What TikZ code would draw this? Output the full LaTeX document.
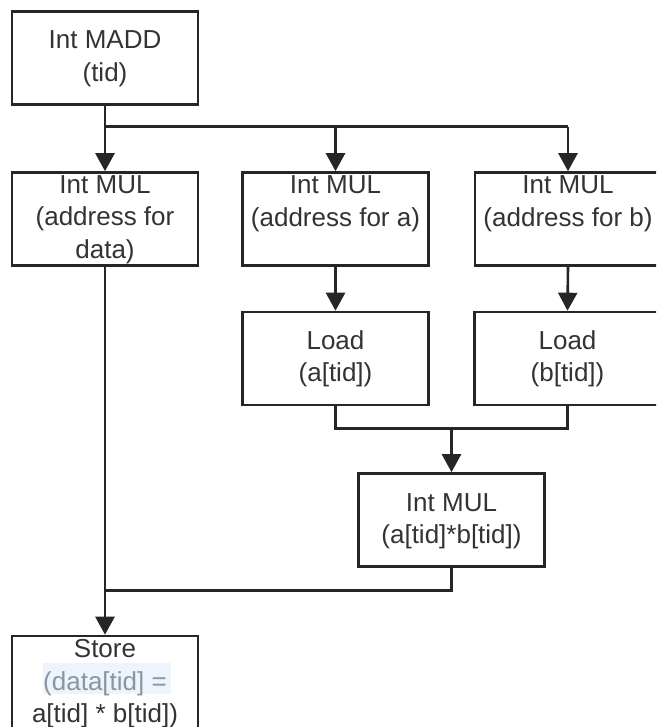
\documentclass[tikz,border=0pt]{standalone}
\usepackage{fontspec}
\setmainfont{Liberation Sans}
\usetikzlibrary{arrows.meta}
\definecolor{linec}{HTML}{262626}
\definecolor{textc}{HTML}{333333}
\definecolor{paleblue}{HTML}{EEF4FB}
\definecolor{greyblue}{HTML}{8A96A3}
\begin{document}
\begin{tikzpicture}[x=1pt,y=-1pt,
  box/.style={draw=linec,line width=2.6pt,minimum width=186pt,minimum height=93pt,inner sep=0pt,fill=white},
  txt/.style={text=textc,font=\fontsize{26}{32.5}\selectfont,align=center,inner sep=0pt},
  conn/.style={draw=linec,line width=2.6pt},
  arr/.style={conn,-{Triangle[length=18pt,width=19pt]}}]
\useasboundingbox (0,0) rectangle (656,727);
\clip (0,0) rectangle (656,727);
\fill[white] (0,0) rectangle (656,727);
% boxes
\node[box] (madd) at (105,58) {};
\node[box] (mula) at (105,219) {};
\node[box] (mulb) at (335.5,219) {};
\node[box] (mulc) at (568,219) {};
\node[box] (lda) at (335.5,358.5) {};
\node[box] (ldb) at (567.5,358.5) {};
\node[box] (mulp) at (451.5,520) {};
\node[box,minimum height=110pt] (store) at (105,691) {};
% texts
\node[txt] (tmadd) at (105,58.5) {Int MADD\\(tid)};
\node[txt] (tmula) at (105,219.5) {Int MUL\\(address for\\data)};
\node[txt,anchor=north] (tmulb) at ([yshift=-4.5pt]mulb.north) {Int MUL\\(address for a)};
\node[txt,anchor=north] (tmulc) at ([yshift=-4.5pt]mulc.north) {Int MUL\\(address for b)};
\node[txt] (tlda) at (335.5,359) {Load\\(a[tid])};
\node[txt] (tldb) at (567.5,359) {Load\\(b[tid])};
\node[txt] (tmulp) at (451.5,521) {Int MUL\\(a[tid]*b[tid])};
\fill[paleblue] (43,663) rectangle (171,694);
\node[txt,anchor=north] (tstore) at ([yshift=-4.5pt]store.north) {Store\\\textcolor{greyblue}{(data[tid] =}\\a[tid] * b[tid])};
% connectors
\coordinate (br) at (105,126.7);
\coordinate (mg) at (451.5,428.3);
\coordinate (jn) at (105,590.7);
\draw[conn] (madd.south) -- (br) -- (br -| mulc.north);
\draw[arr] (br) -- (mula.north);
\draw[arr] (br -| mulb.north) -- (mulb.north);
\draw[arr] (br -| mulc.north) -- (mulc.north);
\draw[arr] (mulb.south) -- (lda.north);
\draw[arr] (mulc.south) -- (ldb.north);
\draw[conn] (lda.south) -- (lda.south |- mg) -- (ldb.south |- mg) -- (ldb.south);
\draw[arr] (mg) -- (mulp.north);
\draw[conn] (mulp.south) -- (mulp.south |- jn) -- (jn);
\draw[arr] (mula.south) -- (store.north);
\end{tikzpicture}
\end{document}
